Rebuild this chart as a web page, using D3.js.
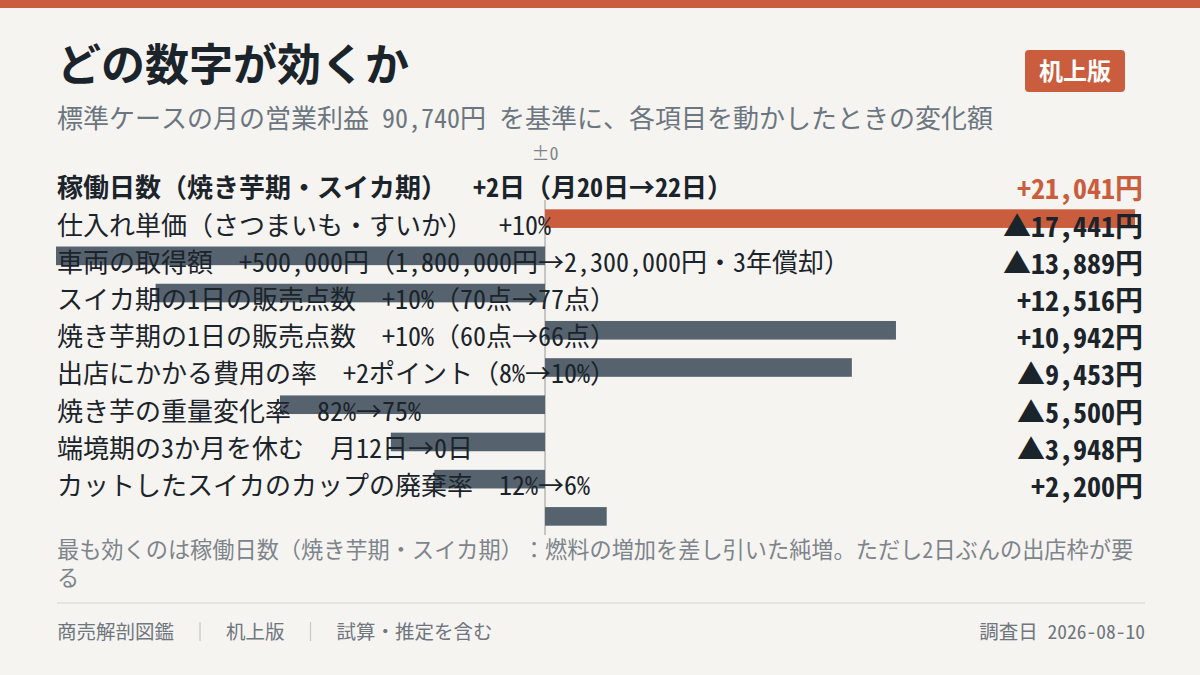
<!DOCTYPE html>
<html><head><meta charset="utf-8">
<script src="https://cdn.jsdelivr.net/npm/d3@7"></script>
<style>
html,body{margin:0;padding:0;background:#f6f4f0;}
svg{display:block;font-family:"Noto Sans Mono CJK JP","Noto Sans CJK JP",sans-serif;}
svg text{text-spacing-trim:space-all;}
</style></head>
<body>
<svg id="c" width="1200" height="675"></svg>
<script>
const titleText = "どの数字が効くか";
const subtitleText = "標準ケースの月の営業利益 90,740円 を基準に、各項目を動かしたときの変化額";
const badgeText = "机上版";
const zeroLabel = "±0";
const names = ["稼働日数（焼き芋期・スイカ期）", "仕入れ単価（さつまいも・すいか）", "車両の取得額", "スイカ期の1日の販売点数", "焼き芋期の1日の販売点数", "出店にかかる費用の率", "焼き芋の重量変化率", "端境期の3か月を休む", "カットしたスイカのカップの廃棄率"];
const details = ["+2日（月20日→22日）", "+10%", "+500,000円（1,800,000円→2,300,000円・3年償却）", "+10%（70点→77点）", "+10%（60点→66点）", "+2ポイント（8%→10%）", "82%→75%", "月12日→0日", "12%→6%"];
const values = [21041, -17441, -13889, 12516, 10942, -9453, -5500, -3948, 2200];
const noteLines = ["最も効くのは稼働日数（焼き芋期・スイカ期）：燃料の増加を差し引いた純増。ただし2日ぶんの出店枠が要", "る"];
const footerItems = ["商売解剖図鑑", "机上版", "試算・推定を含む"];
const footerRight = "調査日 2026-08-10";

const ORANGE = "#c95d3d", SLATE = "#56636f", INK = "#1b232b";
const svg = d3.select("#c");
const W = 1200, H = 675;

// append text pieces, rendering arrows full-width
function richText(sel, str, dx) {
  str.split(/(→)/).filter(s => s.length).forEach((s, k) => {
    const t = sel.append("tspan").text(s);
    if (k === 0 && dx) t.attr("dx", dx);
    if (s === "→") t.attr("font-family", "'Noto Sans CJK JP'");
  });
}

svg.append("rect").attr("x",0).attr("y",0).attr("width",W).attr("height",8).attr("fill",ORANGE);

svg.append("text").attr("x",57).attr("y",81).attr("font-size",44).attr("font-weight",700)
  .attr("font-family","'Noto Sans CJK JP'")
  .attr("fill",INK).text(titleText);

svg.append("text").attr("x",57).attr("y",128).attr("font-size",26).attr("fill","#6c7681").text(subtitleText);

// badge
const bg = svg.append("g");
bg.append("rect").attr("x",1025).attr("y",50).attr("width",100).attr("height",42).attr("rx",4).attr("fill",ORANGE);
bg.append("text").attr("x",1075).attr("y",80).attr("text-anchor","middle").attr("font-size",24)
  .attr("font-weight",700).attr("fill","#fff").text(badgeText);

const rows = d3.range(names.length);
const x = d3.scaleLinear().domain([d3.min(values), d3.max(values)]).range([56, 1135]);
const y = d3.scaleBand().domain(rows).range([200, 535]).paddingInner(0.5).paddingOuter(0.25);
const maxIdx = values.indexOf(d3.max(values));

// zero line
svg.append("line").attr("x1",x(0)).attr("x2",x(0)).attr("y1",200).attr("y2",535)
  .attr("stroke","#b8b6b2").attr("stroke-width",1.5);
svg.append("text").attr("x",x(0)).attr("y",160).attr("text-anchor","middle").attr("font-size",18)
  .attr("fill","#7d848c").text(zeroLabel);

// bars
svg.append("g").selectAll("rect").data(rows).join("rect")
  .attr("x", i => x(Math.min(0, values[i])))
  .attr("width", i => Math.abs(x(values[i]) - x(0)))
  .attr("y", i => y(i))
  .attr("height", y.bandwidth())
  .attr("fill", i => i === maxIdx ? ORANGE : SLATE);

// labels
const fmt = d3.format(",");
svg.append("g").selectAll("text").data(rows).join("text")
  .attr("x", 57).attr("y", i => y(i) - 12).attr("font-size", 26)
  .attr("font-weight", i => i === 0 ? 700 : 400).attr("fill", INK)
  .each(function(i) {
    const t = d3.select(this);
    t.append("tspan").text(names[i]);
    richText(t, details[i], 26);
  });

svg.append("g").selectAll("text").data(rows).join("text")
  .attr("x", 1143).attr("y", i => y(i) - 10).attr("text-anchor","end").attr("font-size", 28)
  .attr("font-weight", 700)
  .attr("fill", i => i === maxIdx ? ORANGE : INK)
  .text(i => (values[i] > 0 ? "+" : "▲") + fmt(Math.abs(values[i])) + "円");

// note (one text block, two lines)
const note = svg.append("text").attr("x",57).attr("y",558).attr("font-size",22.2).attr("fill","#7d848c");
noteLines.forEach((d,i) => note.append("tspan").attr("x",57).attr("dy", i ? 28 : 0).text(d));

svg.append("line").attr("x1",57).attr("x2",1145).attr("y1",603).attr("y2",603).attr("stroke","#d6d4d0").attr("stroke-width",1.2);

// footer
const fg = svg.append("g");
let fx = 57;
footerItems.forEach((t, i) => {
  const tt = fg.append("text").attr("x", fx).attr("y", 639).attr("font-size", 19.5).attr("fill", "#6f767e").text(t);
  const w = tt.node().getComputedTextLength();
  fx += w;
  if (i < footerItems.length - 1) {
    fg.append("line").attr("x1", fx + 26).attr("x2", fx + 26).attr("y1", 622).attr("y2", 641)
      .attr("stroke", "#c8c6c2").attr("stroke-width", 1.2);
    fx += 52;
  }
});
fg.append("text").attr("x",1145).attr("y",639).attr("text-anchor","end").attr("font-size",19.5).attr("fill","#6f767e").text(footerRight);
</script>
</body></html>
